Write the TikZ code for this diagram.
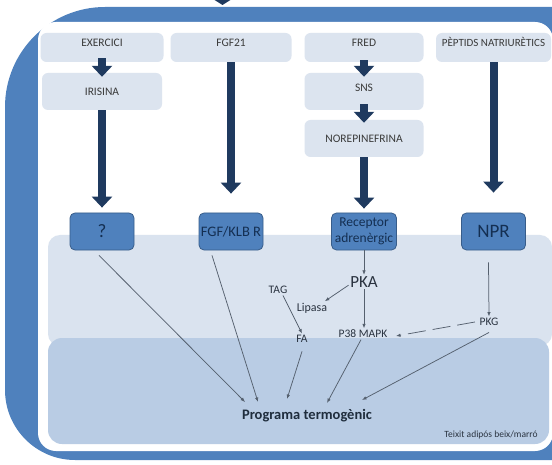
\documentclass[tikz,border=0pt]{standalone}
\usepackage{fontspec}
\setmainfont{Carlito}
\usetikzlibrary{arrows.meta}
\definecolor{frameblue}{HTML}{4F81BD}
\definecolor{lightbox}{HTML}{DCE4EF}
\definecolor{bandA}{HTML}{DAE3EF}
\definecolor{bandB}{HTML}{B9CCE4}
\definecolor{recfill}{HTML}{4F81BD}
\definecolor{recdraw}{HTML}{385D8A}
\definecolor{navy}{HTML}{1F3A5F}
\definecolor{rectext}{HTML}{142F52}
\definecolor{thinc}{HTML}{55606E}
\definecolor{labtext}{HTML}{2A3340}
\definecolor{boxtext}{HTML}{3A3A3A}
\definecolor{progtext}{HTML}{1F2D3D}
\begin{document}
\begin{tikzpicture}[x=1bp,y=-1bp,
  lbox/.style={fill=lightbox, rounded corners=6bp, inner sep=2bp, text=boxtext,
    font=\fontsize{11.5bp}{13bp}\selectfont, text height=7.5bp, text depth=0bp},
  topbox/.style={lbox, minimum height=29bp, text depth=9bp},
  midbox/.style={lbox, minimum height=37bp, minimum width=119bp},
  recbox/.style={fill=recfill, draw=recdraw, line width=0.8bp, rounded corners=5bp,
    minimum width=64bp, minimum height=37bp, inner sep=1bp, text=rectext},
  fatarrow/.style={draw=navy, line width=8bp, -{Triangle[width=20bp,length=11bp]}},
  thinarrow/.style={draw=thinc, line width=0.75bp, -{Latex[length=4.5bp,width=3.5bp]}},
  lab/.style={inner sep=1.5bp, text=labtext, font=\fontsize{11.5bp}{13bp}\selectfont}
]
\useasboundingbox (0,0) rectangle (552,465);
\clip (0,0) rectangle (552,465);
% frame
\fill[frameblue] (560,7) -- (105,7) .. controls (49.8,7) and (5,51.8) .. (5,107)
  -- (5,390) .. controls (5,428.6) and (36.4,460) .. (75,460) -- (560,460) -- cycle;
\fill[white, rounded corners=18bp] (38,22) rectangle (553,451);
\fill[bandA, rounded corners=12bp] (48,235) rectangle (552,346);
\fill[bandB, rounded corners=14bp] (48,338) rectangle (549,444);
\fill[navy] (213,-1) -- (232,-1) -- (222.5,5) -- cycle;
% top boxes
\node[topbox, minimum width=123bp] (exer) at (102,47.5) {EXERCICI};
\node[topbox, minimum width=121bp] (fgf21) at (231,47.5) {FGF21};
\node[topbox, minimum width=119bp] (fred) at (364,47.5) {FRED};
\node[topbox, minimum width=115bp, font=\fontsize{11bp}{13bp}\selectfont] (pept) at (493.5,47.5) {PÈPTIDS NATRIURÈTICS};
\node[midbox, minimum width=120bp] (iris) at (102,91.5) {IRISINA};
\node[midbox, text depth=7bp] (sns) at (364,91.5) {SNS};
\node[midbox] (norep) at (364,138.5) {NOREPINEFRINA};
% receptor boxes
\node[recbox, font=\fontsize{19bp}{21bp}\selectfont] (q) at (102,231.5) {?};
\node[recbox, font=\fontsize{14.5bp}{16bp}\selectfont] (fgfr) at (231,231.5) {FGF/KLB R};
\node[recbox, minimum width=65bp, align=center, font=\fontsize{13.5bp}{16bp}\selectfont] (rec) at (364,231.5) {Receptor\\adrenèrgic};
\node[recbox, font=\fontsize{19bp}{21bp}\selectfont] (npr) at (493.5,231.5) {NPR};
% thick arrows
\draw[fatarrow] ([yshift=4bp]exer.south) -- ([yshift=-4bp]iris.north);
\draw[fatarrow] (iris.south) -- ([yshift=5bp]q.north);
\draw[fatarrow] (fgf21.south) -- ([yshift=19bp]fgfr.north);
\draw[fatarrow] ([yshift=2bp]fred.south) -- ([yshift=-4bp]sns.north);
\draw[fatarrow] ([yshift=6bp]sns.south) -- ([yshift=-3bp]norep.north);
\draw[fatarrow] (norep.south) -- ([yshift=4bp]rec.north);
\draw[fatarrow] (pept.south) -- ([yshift=20bp]npr.north);
% labels
\node[lab, font=\fontsize{17bp}{19bp}\selectfont] (pka) at (364,282) {PKA};
\node[lab] (tag) at (278,290) {TAG};
\node[lab, font=\fontsize{12bp}{14bp}\selectfont] (lip) at (312,308) {Lipasa};
\node[lab] (fa) at (302,339) {FA};
\node[lab] (p38) at (363,334) {P38 MAPK};
\node[lab] (pkg) at (489,322) {PKG};
\node[font=\bfseries\fontsize{14.5bp}{16bp}\selectfont, text=progtext, inner sep=1bp] (prog) at (307,416) {Programa termogènic};
\node[font=\fontsize{9.5bp}{11bp}\selectfont, text=labtext, inner sep=1bp] (teix) at (491,435) {Teixit adipós beix/marró};
\coordinate (e1) at (245,402);
\coordinate (e2) at (258,402);
\coordinate (e3) at (287,399);
\coordinate (e4) at (327,403);
\coordinate (e5) at (362,400);
% thin arrows
\draw[thinarrow] ([xshift=-3bp,yshift=-5bp]q.south) -- (e1);
\draw[thinarrow] ([xshift=-19bp,yshift=-5bp]fgfr.south) -- (e2);
\draw[thinarrow] (rec.south) -- (pka.north);
\draw[thinarrow] ([yshift=4bp]pka.south west) -- ([xshift=-4bp]lip.north east);
\draw[thinarrow] (pka.south) -- (pka.south |- p38.north);
\draw[thinarrow] ([xshift=5bp]tag.south) -- (fa.north);
\draw[thinarrow] ([yshift=-7bp]fa.south) -- (e3);
\draw[thinarrow] ([xshift=-2bp]p38.south) -- (e4);
\draw[thinarrow] ([yshift=-5bp]pkg.south) -- (e5);
\draw[thinarrow] ([xshift=-5bp,yshift=-12bp]npr.south) -- (pkg.north);
\draw[thinarrow, dash pattern=on 18bp off 7bp] ([xshift=-3bp]pkg.west) -- ([xshift=7bp,yshift=-2bp]p38.east);
\end{tikzpicture}
\end{document}
